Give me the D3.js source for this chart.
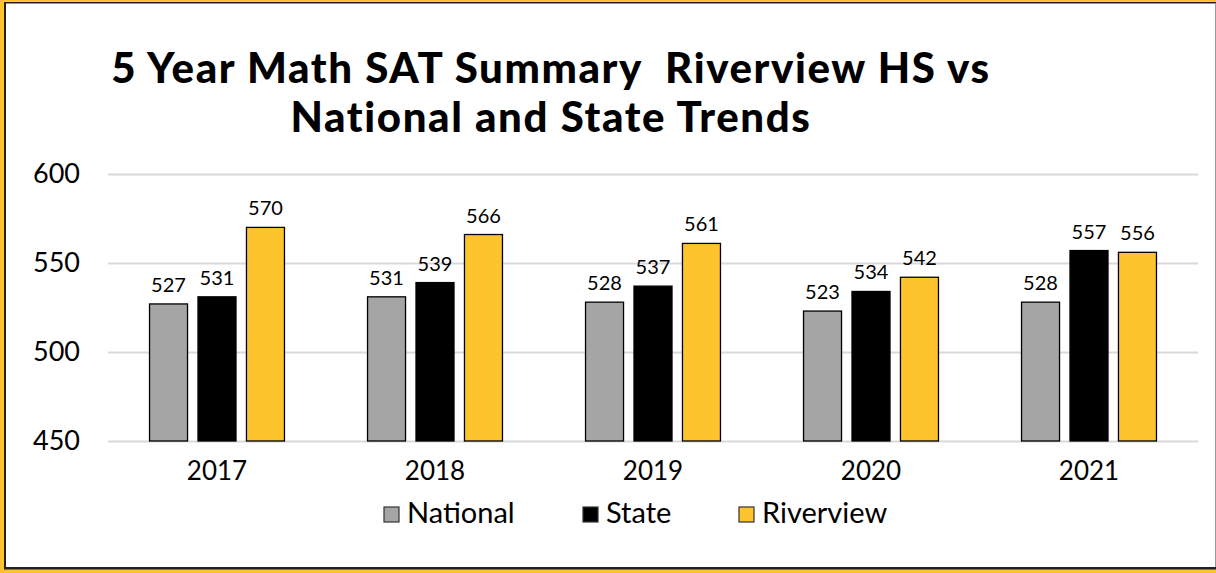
<!DOCTYPE html>
<html><head><meta charset="utf-8">
<script src="https://cdn.jsdelivr.net/npm/d3@7"></script>
<style>html,body{margin:0;padding:0;background:#fff;} svg{display:block;}</style>
</head><body>
<svg id="c" width="1216" height="573"></svg>
<script>
const years = ["2017","2018","2019","2020","2021"];
const seriesNames = ["National","State","Riverview"];
const national = [527,531,528,523,528];
const state = [531,539,537,534,557];
const riverview = [570,566,561,542,556];
const yTicks = [450,500,550,600];
const colors = ["#A5A5A5","#000000","#FEC42D"];
const titleLines = ["5 Year Math SAT Summary  Riverview HS vs","National and State Trends"];

const values = [national, state, riverview];
const font = "Lato, 'Open Sans', sans-serif";
const svg = d3.select("#c");

// border
svg.append("rect").attr("x",0).attr("y",0).attr("width",1216).attr("height",573).attr("fill","#FEC42D");
svg.append("rect").attr("x",4).attr("y",2).attr("width",1212).attr("height",567.5).attr("fill","#222");
svg.append("rect").attr("x",6).attr("y",3.5).attr("width",1209).attr("height",563.5).attr("fill","#fff");
svg.append("line").attr("x1",1215.5).attr("x2",1215.5).attr("y1",3).attr("y2",567).attr("stroke","#999").attr("stroke-width",1);

const x0 = d3.scaleBand().domain(years).range([108,1198]).paddingInner(0.381).paddingOuter(0.1905);
const x1 = d3.scaleBand().domain(seriesNames).range([0,x0.bandwidth()]).paddingInner(0.216).paddingOuter(0);
const y = d3.scaleLinear().domain([450,600]).range([441,174]);

// gridlines
const yAxis = d3.axisLeft(y).tickValues(yTicks).tickSize(-(1198-108)).tickPadding(28).tickFormat(d3.format("d"));
const ga = svg.append("g").attr("transform","translate(108,0)").call(yAxis);
ga.select(".domain").remove();
ga.selectAll(".tick line").attr("stroke","#D9D9D9").attr("stroke-width",2);
ga.selectAll(".tick text").attr("font-family",font).attr("font-size",27).attr("fill","#000");

// bars
const groups = svg.append("g").selectAll("g").data(years).join("g")
  .attr("transform",d=>`translate(${x0(d)},0)`);
groups.selectAll("rect").data((d,i)=>seriesNames.map((s,j)=>({s,j,v:values[j][i]}))).join("rect")
  .attr("x",d=>x1(d.s)).attr("width",x1.bandwidth())
  .attr("y",d=>y(d.v)).attr("height",d=>y(450)-y(d.v))
  .attr("fill",d=>colors[d.j]).attr("stroke","#000").attr("stroke-width",1.3);
groups.selectAll("text").data((d,i)=>seriesNames.map((s,j)=>({s,j,v:values[j][i]}))).join("text")
  .attr("x",d=>x1(d.s)+x1.bandwidth()/2).attr("y",d=>y(d.v)-12)
  .attr("text-anchor","middle").attr("font-family",font).attr("font-size",20).attr("fill","#000")
  .text(d=>d.v);

// x axis
const xAxis = d3.axisBottom(x0).tickSize(0).tickPadding(21);
const gx = svg.append("g").attr("transform","translate(0,441)").call(xAxis);
gx.select(".domain").remove();
gx.selectAll(".tick text").attr("font-family",font).attr("font-size",26).attr("fill","#000");

// title
svg.append("g").selectAll("text").data(titleLines).join("text")
  .attr("x",551).attr("y",(d,i)=>83+i*49).attr("text-anchor","middle")
  .attr("font-family",font).attr("font-weight",900).attr("font-size",42).attr("fill","#000")
  .attr("letter-spacing",1.6)
  .style("white-space","pre").attr("xml:space","preserve")
  .text(d=>d);

// legend
const legX = [384,583,739];
const lg = svg.append("g").selectAll("g").data(seriesNames).join("g")
  .attr("transform",(d,i)=>`translate(${legX[i]},507)`);
lg.append("rect").attr("width",15).attr("height",15).attr("fill",(d,i)=>colors[i]).attr("stroke","#333").attr("stroke-width",1.2);
lg.append("text").attr("x",23).attr("y",16).attr("font-family",font).attr("font-size",29).attr("fill","#000").text(d=>d);
</script>
</body></html>
